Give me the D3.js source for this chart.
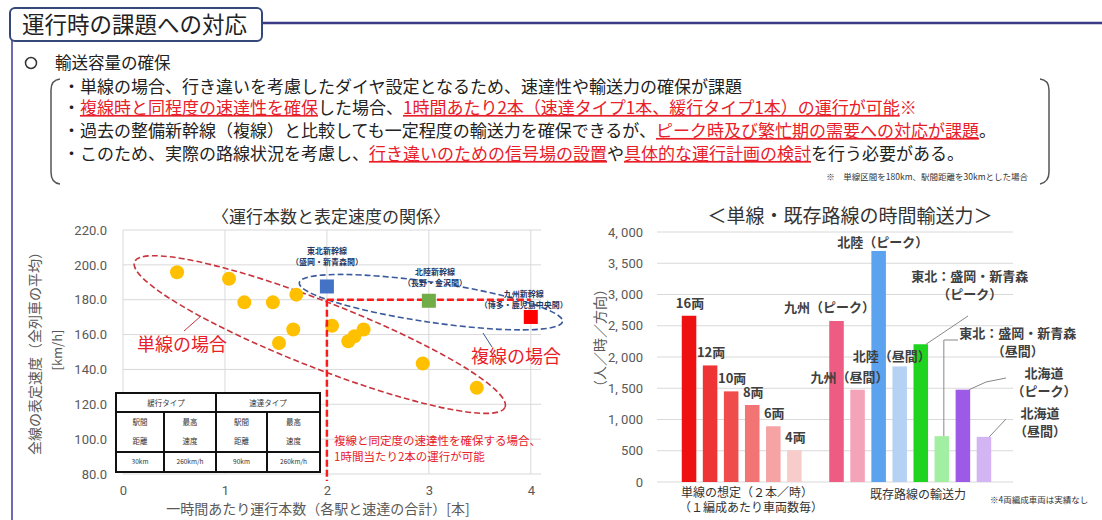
<!DOCTYPE html>
<html lang="ja">
<head>
<meta charset="UTF-8">
<title>運行時の課題への対応</title>
<script src="https://cdn.jsdelivr.net/npm/d3@7"></script>
<style>
  body { margin: 0; background: #fff; }
  svg { display: block; font-family: "Noto Sans CJK JP", "Noto Sans", sans-serif; }
  .tick text { fill: #595959; }
</style>
</head>
<body>
<svg id="chart" width="1102" height="520"></svg>
<script>
// ---- left chart: 運行本数と表定速度の関係 ----
const singleX = [0.53, 1.04, 1.19, 1.47, 1.70, 1.67, 1.53, 2.05, 2.21, 2.27, 2.36, 2.94, 3.47];
const singleY = [195.8, 192.0, 178.5, 178.5, 182.9, 162.9, 155.2, 165.1, 156.2, 159.0, 162.9, 143.4, 129.5];
const doubleNames = ["東北新幹線", "北陸新幹線", "九州新幹線"];
const doubleSections = ["（盛岡・新青森間）", "（長野・金沢間）", "（博多・鹿児島中央間）"];
const doubleX = [2, 3, 4];
const doubleY = [187.6, 179.4, 170.1];
const speedTicks = [80, 100, 120, 140, 160, 180, 200, 220];
const trainTicks = [0, 1, 2, 3, 4];

// ---- right chart: 単線・既存路線の時間輸送力 ----
const capKeys = ["16両", "12両", "10両", "8両", "6両", "4両", "gap",
  "九州（ピーク）", "九州（昼間）", "北陸（ピーク）", "北陸（昼間）",
  "東北（ピーク）", "東北（昼間）", "北海道（ピーク）", "北海道（昼間）"];
const capValues = [2660, 1865, 1450, 1232, 892, 510, null, 2576, 1477, 3697, 1849, 2204, 733, 1477, 722];
const capTicks = [0, 500, 1000, 1500, 2000, 2500, 3000, 3500, 4000];
const capTickLabels = ["0", "500", "1, 000", "1, 500", "2, 000", "2, 500", "3, 000", "3, 500", "4, 000"];

const doubleColors = ["#4472c4", "#70ad47", "#ff0000"];
const barColors = ["#ee1111", "#ee3434", "#f04c4c", "#f27474", "#f5a3a3", "#f9cccc", "none",
  "#ee5c84", "#f5a3b8", "#5ba3ee", "#b5d2f5", "#1fd41f", "#a2eea2", "#9d5ae6", "#d2b5f2"];

const red = "#e8202a";
const svg = d3.select("#chart");

// ---- header frame ----
svg.append("line").attr("x1", 12).attr("x2", 12).attr("y1", 40).attr("y2", 520)
  .attr("stroke", "#6c6cb4").attr("stroke-width", 2);
svg.append("line").attr("x1", 262).attr("x2", 1102).attr("y1", 23).attr("y2", 23)
  .attr("stroke", "#3a3a86").attr("stroke-width", 2.5);
svg.append("rect").attr("x", 10).attr("y", 8).attr("width", 252).attr("height", 33).attr("rx", 5)
  .attr("fill", "#fff").attr("stroke", "#34497a").attr("stroke-width", 2);
svg.append("text").attr("x", 22).attr("y", 25).attr("dy", "0.35em")
  .attr("font-size", 22.5).attr("fill", "#222").text("運行時の課題への対応");

svg.append("circle").attr("cx", 31).attr("cy", 63).attr("r", 5.5)
  .attr("fill", "none").attr("stroke", "#333").attr("stroke-width", 1.5);
svg.append("text").attr("x", 55).attr("y", 63).attr("dy", "0.35em")
  .attr("font-size", 16.5).attr("fill", "#222").text("輸送容量の確保");

// brackets
svg.append("path").attr("d", "M60,79 Q51,80 51,90 L51,172 Q51,183 60,184")
  .attr("fill", "none").attr("stroke", "#555").attr("stroke-width", 1.5);
svg.append("path").attr("d", "M1040,79 Q1049,80 1049,90 L1049,172 Q1049,182 1040,184")
  .attr("fill", "none").attr("stroke", "#555").attr("stroke-width", 1.5);

const bulletLines = [
  [["・単線の場合、行き違いを考慮したダイヤ設定となるため、速達性や輸送力の確保が課題", 0]],
  [["・", 0], ["複線時と同程度の速達性を確保", 1], ["した場合、", 0],
   ["1時間あたり2本（速達タイプ1本、緩行タイプ1本）の運行が可能", 1], ["※", 2]],
  [["・過去の整備新幹線（複線）と比較しても一定程度の輸送力を確保できるが、", 0],
   ["ピーク時及び繁忙期の需要への対応が課題", 1], ["。", 0]],
  [["・このため、実際の路線状況を考慮し、", 0], ["行き違いのための信号場の設置", 1], ["や", 0],
   ["具体的な運行計画の検討", 1], ["を行う必要がある。", 0]]
];
const lineY = [87, 108, 131, 154];
bulletLines.forEach((segs, i) => {
  const t = svg.append("text").attr("x", 63).attr("y", lineY[i]).attr("dy", "0.35em")
    .attr("font-size", 17).attr("fill", "#222");
  segs.forEach(s => {
    t.append("tspan").text(s[0])
      .attr("fill", s[1] ? red : "#222")
      .style("text-decoration", s[1] === 1 ? "underline" : "none");
  });
});
svg.append("text").attr("x", 1028).attr("y", 177).attr("dy", "0.35em").attr("text-anchor", "end")
  .attr("font-size", 8.5).attr("fill", "#333").text("※　単線区間を180km、駅間距離を30kmとした場合");

// ---- left chart ----
const x = d3.scaleLinear().domain([0, 4.1]).range([123, 541]);
const y = d3.scaleLinear().domain([80, 220]).range([474, 230]);

svg.append("text").attr("x", 331).attr("y", 217).attr("dy", "0.35em").attr("text-anchor", "middle")
  .attr("font-size", 17).attr("fill", "#333").text("〈運行本数と表定速度の関係〉");

const gl = svg.append("g").attr("stroke", "#d9d9d9").attr("stroke-width", 1);
speedTicks.forEach(v => gl.append("line").attr("x1", x(0)).attr("x2", x(4.1)).attr("y1", y(v)).attr("y2", y(v)));
trainTicks.forEach(v => gl.append("line").attr("x1", x(v)).attr("x2", x(v)).attr("y1", y(80)).attr("y2", y(220)));

const yAxisL = svg.append("g").attr("transform", `translate(${x(0)},0)`)
  .call(d3.axisLeft(y).tickValues(speedTicks).tickFormat(d3.format(".1f")).tickSize(0).tickPadding(16));
yAxisL.select(".domain").remove();
yAxisL.selectAll("text").attr("font-size", 13).attr("font-family", "Roboto, 'Noto Sans', sans-serif");

const xAxisL = svg.append("g").attr("transform", `translate(0,${y(80)})`)
  .call(d3.axisBottom(x).tickValues(trainTicks).tickFormat(d3.format("d")).tickSize(0).tickPadding(12));
xAxisL.select(".domain").remove();
xAxisL.selectAll("text").attr("font-size", 13).attr("font-family", "Roboto, 'Noto Sans', sans-serif");

svg.append("text").attr("transform", "translate(35,350) rotate(-90)").attr("text-anchor", "middle")
  .attr("dy", "0.35em").attr("font-size", 14).attr("fill", "#595959").text("全線の表定速度（全列車の平均）");
svg.append("text").attr("transform", "translate(57,350) rotate(-90)").attr("text-anchor", "middle")
  .attr("dy", "0.35em").attr("font-size", 13).attr("fill", "#595959").text("[km/h]");
svg.append("text").attr("x", 318).attr("y", 509).attr("dy", "0.35em").attr("text-anchor", "middle")
  .attr("font-size", 14).attr("fill", "#595959").text("一時間あたり運行本数（各駅と速達の合計）[本]");

// ellipses
function ellipse(cx, cy, rx, ry, angle, color) {
  svg.append("ellipse")
    .attr("transform", `translate(${x(cx)},${y(cy)}) rotate(${angle})`)
    .attr("rx", rx).attr("ry", ry)
    .attr("fill", "none").attr("stroke", color).attr("stroke-width", 1.6)
    .attr("stroke-dasharray", "6,3");
}
ellipse(1.93, 160, 199, 33, 21.4, "#c8343c");
ellipse(3.02, 178.6, 133, 20, 8.4, "#3a5a9c");

// scatter points
svg.append("g").selectAll("circle").data(singleX).join("circle")
  .attr("cx", d => x(d)).attr("cy", (d, i) => y(singleY[i])).attr("r", 7)
  .attr("fill", "#ffc000");

// red dashed guides
svg.append("line").attr("x1", x(2)).attr("x2", x(2)).attr("y1", y(180)).attr("y2", y(76))
  .attr("stroke", "#ff1a1a").attr("stroke-width", 2.5).attr("stroke-dasharray", "7,3");
svg.append("line").attr("x1", x(2)).attr("x2", x(4)).attr("y1", y(180)).attr("y2", y(180))
  .attr("stroke", "#ff1a1a").attr("stroke-width", 2.5).attr("stroke-dasharray", "7,3");

// double-track squares
svg.append("g").selectAll("rect").data(doubleX).join("rect")
  .attr("x", d => x(d) - 7).attr("y", (d, i) => y(doubleY[i]) - 7)
  .attr("width", 14).attr("height", 14).attr("fill", (d, i) => doubleColors[i]);
const dl = svg.append("g").attr("font-size", 8).attr("fill", "#1f3864").attr("font-weight", "bold")
  .attr("text-anchor", "middle");
const labelDx = [0, 0.06, -0.07];
doubleX.forEach((d, i) => {
  dl.append("text").attr("x", x(d + labelDx[i])).attr("y", y(doubleY[i]) - 32 + (i * 6)).text(doubleNames[i]);
  dl.append("text").attr("x", x(d + labelDx[i])).attr("y", y(doubleY[i]) - 21 + (i * 6)).text(doubleSections[i]);
});

// callouts
svg.append("line").attr("x1", 184).attr("y1", 331).attr("x2", 201).attr("y2", 316)
  .attr("stroke", "#c8343c").attr("stroke-width", 1);
svg.append("text").attr("x", 137).attr("y", 345).attr("dy", "0.35em").attr("font-size", 18)
  .attr("fill", red).text("単線の場合");
svg.append("line").attr("x1", 492).attr("y1", 347).attr("x2", 483).attr("y2", 333)
  .attr("stroke", "#3a5a9c").attr("stroke-width", 1);
svg.append("text").attr("x", 471).attr("y", 357).attr("dy", "0.35em").attr("font-size", 18)
  .attr("fill", red).text("複線の場合");
svg.append("text").attr("x", 334).attr("y", 441).attr("dy", "0.35em").attr("font-size", 11.5)
  .attr("fill", red).text("複線と同定度の速達性を確保する場合、");
svg.append("text").attr("x", 334).attr("y", 457).attr("dy", "0.35em").attr("font-size", 11.5)
  .attr("fill", red).text("1時間当たり2本の運行が可能");

// spec table
const tbl = svg.append("g").attr("transform", "translate(116,393)");
const colX = [0, 48, 100, 151, 204];
tbl.append("rect").attr("width", 204).attr("height", 79).attr("fill", "#fff");
const tg = tbl.append("g").attr("stroke", "#111").attr("stroke-width", 2);
tg.append("rect").attr("width", 204).attr("height", 79).attr("fill", "none");
[19, 59].forEach(v => tg.append("line").attr("x1", 0).attr("x2", 204).attr("y1", v).attr("y2", v));
tg.append("line").attr("x1", 100).attr("x2", 100).attr("y1", 0).attr("y2", 79);
[48, 151].forEach(v => tg.append("line").attr("x1", v).attr("x2", v).attr("y1", 19).attr("y2", 79));
const tt = tbl.append("g").attr("font-size", 7.5).attr("fill", "#333").attr("text-anchor", "middle");
const tableHead = ["緩行タイプ", "速達タイプ"];
const tableMid = [["駅間", "距離"], ["最高", "速度"], ["駅間", "距離"], ["最高", "速度"]];
const tableVal = ["30km", "260km/h", "90km", "260km/h"];
tableHead.forEach((s, i) => tt.append("text").attr("x", (colX[i * 2] + colX[i * 2 + 2]) / 2)
  .attr("y", 10).attr("dy", "0.35em").text(s));
tableMid.forEach((s, i) => {
  const cx = (colX[i] + colX[i + 1]) / 2;
  tt.append("text").attr("x", cx).attr("y", 29).attr("dy", "0.35em").text(s[0]);
  tt.append("text").attr("x", cx).attr("y", 48).attr("dy", "0.35em").text(s[1]);
});
tableVal.forEach((s, i) => tt.append("text").attr("x", (colX[i] + colX[i + 1]) / 2)
  .attr("y", 69).attr("dy", "0.35em").attr("font-size", 6.5).text(s));

// ---- right chart ----
const bx = d3.scaleBand().domain(capKeys).range([678.5, 994.5]).paddingInner(0.31).paddingOuter(0.155);
const by = d3.scaleLinear().domain([0, 4000]).range([482, 232]);

svg.append("text").attr("x", 850).attr("y", 216).attr("dy", "0.35em").attr("text-anchor", "middle")
  .attr("font-size", 19).attr("fill", "#333").text("＜単線・既存路線の時間輸送力＞");

const gr = svg.append("g").attr("stroke", "#d9d9d9").attr("stroke-width", 1);
capTicks.forEach(v => gr.append("line").attr("x1", 657).attr("x2", 1013).attr("y1", by(v)).attr("y2", by(v)));

const yAxisR = svg.append("g").attr("transform", "translate(657,0)")
  .call(d3.axisLeft(by).tickValues(capTicks).tickFormat((d, i) => capTickLabels[i]).tickSize(0).tickPadding(14));
yAxisR.select(".domain").remove();
yAxisR.selectAll("text").attr("font-size", 13).attr("font-family", "Roboto, 'Noto Sans', sans-serif");

svg.append("text").attr("transform", "translate(600,338) rotate(-90)").attr("text-anchor", "middle")
  .attr("dy", "0.35em").attr("font-size", 14).attr("fill", "#595959").text("（人／時／方向）");

svg.append("g").selectAll("rect").data(capKeys.filter((k, i) => capValues[i] !== null)).join("rect")
  .attr("x", d => bx(d)).attr("width", bx.bandwidth())
  .attr("y", d => by(capValues[capKeys.indexOf(d)]))
  .attr("height", d => by(0) - by(capValues[capKeys.indexOf(d)]))
  .attr("fill", d => barColors[capKeys.indexOf(d)]);

const barTop = k => by(capValues[capKeys.indexOf(k)]);
const barMid = k => bx(k) + bx.bandwidth() / 2;

// car-count labels
const lab = svg.append("g").attr("font-size", 13).attr("font-weight", "bold").attr("fill", "#404040")
  .attr("text-anchor", "middle");
capKeys.slice(0, 6).forEach(k => lab.append("text").attr("x", barMid(k) + 1).attr("y", barTop(k) - 8).text(k));

// existing-line labels: [key, lines, dx, dy of first line]
const callouts = [
  ["九州（ピーク）", ["九州（ピーク）"], -7, -9],
  ["九州（昼間）", ["九州（昼間）"], -8, -8],
  ["北陸（ピーク）", ["北陸（ピーク）"], 4, -4],
  ["北陸（昼間）", ["北陸（昼間）"], -8, -5],
  ["東北（ピーク）", ["東北：盛岡・新青森", "（ピーク）"], 49, -63],
  ["東北（昼間）", ["東北：盛岡・新青森", "（昼間）"], 76, -98],
  ["北海道（ピーク）", ["北海道", "（ピーク）"], 81, -12],
  ["北海道（昼間）", ["北海道", "（昼間）"], 56, -19]
];
callouts.forEach(c => {
  c[1].forEach((s, j) => lab.append("text").attr("x", barMid(c[0]) + c[2])
    .attr("y", barTop(c[0]) + c[3] + j * 18).text(s));
});

const lead = svg.append("g").attr("fill", "none").attr("stroke", "#888").attr("stroke-width", 1);
const line = d3.line();
const r = k => bx(k) + bx.bandwidth();
lead.append("path").attr("d", line([[968, 316], [r("東北（ピーク）") - 2, barTop("東北（ピーク）")]]));
lead.append("path").attr("d", line([[958, 340], [barMid("東北（昼間）") + 2, 340], [barMid("東北（昼間）") + 2, barTop("東北（昼間）")]]));
lead.append("path").attr("d", line([[1006, 378], [986, 382], [r("北海道（ピーク）") - 1, barTop("北海道（ピーク）")]]));
lead.append("path").attr("d", line([[1006, 419], [r("北海道（昼間）") - 2, barTop("北海道（昼間）")]]));

const cat = svg.append("g").attr("font-size", 12).attr("fill", "#333");
cat.append("text").attr("x", 681).attr("y", 493).attr("dy", "0.35em").text("単線の想定（２本／時）");
cat.append("text").attr("x", 679).attr("y", 508).attr("dy", "0.35em").text("（１編成あたり車両数毎）");
cat.append("text").attr("x", 918).attr("y", 495).attr("dy", "0.35em").attr("text-anchor", "middle").text("既存路線の輸送力");
cat.append("text").attr("x", 990).attr("y", 500).attr("dy", "0.35em").attr("font-size", 8.5).text("※4両編成車両は実績なし");
</script>
</body>
</html>
